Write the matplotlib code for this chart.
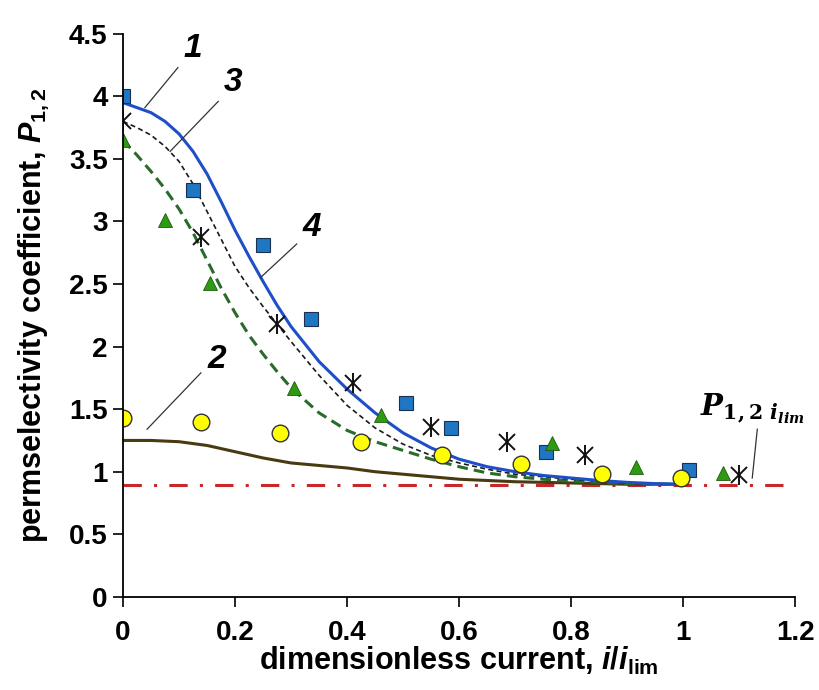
import matplotlib
matplotlib.use('Agg')
from matplotlib import pyplot as plt

# experimental points
sq_x = [0.0, 0.125, 0.25, 0.335, 0.505, 0.585, 0.755, 1.01]
sq_y = [4.0, 3.25, 2.81, 2.22, 1.55, 1.35, 1.16, 1.01]
st_x = [0.0, 0.14, 0.275, 0.41, 0.55, 0.685, 0.825, 1.1]
st_y = [3.8, 2.88, 2.18, 1.71, 1.36, 1.24, 1.13, 0.97]
tr_x = [0.0, 0.075, 0.155, 0.305, 0.46, 0.765, 0.915, 1.07]
tr_y = [3.65, 3.01, 2.51, 1.67, 1.45, 1.23, 1.04, 0.99]
ci_x = [0.0, 0.14, 0.28, 0.425, 0.57, 0.71, 0.855, 0.995]
ci_y = [1.43, 1.4, 1.31, 1.24, 1.13, 1.06, 0.98, 0.95]

# calculated curves
c_x = [0.0, 0.025, 0.05, 0.075, 0.1, 0.125, 0.15, 0.175, 0.2, 0.225, 0.25, 0.275,
       0.3, 0.35, 0.4, 0.45, 0.5, 0.55, 0.6, 0.65, 0.7, 0.75, 0.8, 0.85, 0.9, 0.95, 1.0]
c1_y = [3.95, 3.91, 3.87, 3.8, 3.7, 3.56, 3.38, 3.16, 2.93, 2.72, 2.52, 2.33,
        2.16, 1.88, 1.66, 1.47, 1.31, 1.19, 1.1, 1.04, 1.0, 0.97, 0.95, 0.93, 0.915, 0.905, 0.9]
c3_y = [3.8, 3.75, 3.69, 3.6, 3.48, 3.3, 3.08, 2.86, 2.64, 2.47, 2.32, 2.18,
        2.04, 1.77, 1.53, 1.35, 1.22, 1.13, 1.07, 1.02, 0.98, 0.96, 0.94, 0.925, 0.91, 0.905, 0.9]
c4_y = [3.65, 3.53, 3.4, 3.26, 3.1, 2.91, 2.69, 2.47, 2.27, 2.09, 1.94, 1.8,
        1.67, 1.47, 1.33, 1.24, 1.17, 1.1, 1.04, 0.99, 0.96, 0.94, 0.925, 0.915, 0.905, 0.9, 0.9]
c2_y = [1.25, 1.25, 1.25, 1.245, 1.24, 1.225, 1.21, 1.185, 1.16, 1.135, 1.11, 1.09,
        1.07, 1.05, 1.03, 1.0, 0.98, 0.96, 0.94, 0.93, 0.92, 0.915, 0.91, 0.905, 0.9, 0.9, 0.9]
p_lim = 0.89

plt.rcParams['font.family'] = ['Liberation Sans', 'DejaVu Sans']
plt.rcParams['font.weight'] = 'bold'
plt.rcParams['mathtext.fontset'] = 'custom'
plt.rcParams['mathtext.it'] = 'Liberation Sans:italic:bold'
plt.rcParams['mathtext.rm'] = 'Liberation Sans'
plt.rcParams['mathtext.bf'] = 'Liberation Sans:bold'

fig = plt.figure(figsize=(8.2, 6.9), dpi=100)
ax = fig.add_axes([0.15, 0.135, 0.82, 0.816])

ax.plot([0, 1.2], [p_lim, p_lim], color='#C8282A', lw=2.2, ls=(0, (6, 4, 1, 4)))
ax.plot(c_x, c2_y, color='#4A3A12', lw=2.2)
ax.plot(c_x, c4_y, color='#2A6A2A', lw=2.2, ls=(0, (3.5, 2)))
ax.plot(c_x, c3_y, color='#1a1a1a', lw=1.2, ls=(0, (3, 2)))
ax.plot(c_x, c1_y, color='#1F4FC8', lw=2.2)

ax.plot(sq_x, sq_y, 's', ms=10, mfc='#1F77C4', mec='#1a3050', mew=0.8, ls='none')
ax.plot(st_x, st_y, 'x', ms=11, mec='#111111', mew=1.4, ls='none')
ax.plot(st_x, st_y, '|', ms=14, mec='#111111', mew=1.4, ls='none')
ax.plot(tr_x, tr_y, '^', ms=10, mfc='#2E9A12', mec='#1f5a10', mew=0.6, ls='none')
ax.plot(ci_x, ci_y, 'o', ms=12, mfc='#FFFF00', mec='#333333', mew=1.0, ls='none')

ax.set_xlim(0, 1.2)
ax.set_ylim(0, 4.5)
ax.set_xticks([0, 0.2, 0.4, 0.6, 0.8, 1, 1.2])
ax.set_xticklabels(['0', '0.2', '0.4', '0.6', '0.8', '1', '1.2'])
ax.set_yticks([0, 0.5, 1, 1.5, 2, 2.5, 3, 3.5, 4, 4.5])
ax.set_yticklabels(['0', '0.5', '1', '1.5', '2', '2.5', '3', '3.5', '4', '4.5'])
ax.tick_params(direction='out', length=7, width=1.2, labelsize=20)
ax.tick_params(axis='x', pad=10)
ax.tick_params(axis='y', pad=4)
for s in ['top', 'right']:
    ax.spines[s].set_visible(False)
for s in ['left', 'bottom']:
    ax.spines[s].set_linewidth(1.3)

ax.set_xlabel(r'dimensionless current, $i$/$i$$_{\rm lim}$', fontsize=22,
              fontweight='bold', labelpad=-1)
ax.set_ylabel(r'permselectivity coefficient, $P$$_{\rm 1,2}$', fontsize=22,
              fontweight='bold', labelpad=13)

# curve numbers with leader lines
lbl = dict(fontsize=24, fontweight='bold', style='italic', ha='center', va='center')
ax.plot([0.039, 0.098], [3.91, 4.23], color='#333333', lw=0.9)
ax.text(0.125, 4.38, '1', **lbl)
ax.plot([0.084, 0.17], [3.56, 3.96], color='#333333', lw=0.9)
ax.text(0.196, 4.11, '3', **lbl)
ax.plot([0.245, 0.31], [2.55, 2.82], color='#333333', lw=0.9)
ax.text(0.337, 2.95, '4', **lbl)
ax.plot([0.043, 0.139], [1.34, 1.79], color='#333333', lw=0.9)
ax.text(0.168, 1.9, '2', **lbl)
ax.plot([1.132, 1.123], [1.34, 0.95], color='#333333', lw=0.9)
ax.text(1.03, 1.5, r'$\mathbfit{P}_{\mathbf{1,2}\ \mathbfit{i}_{\mathbfit{lim}}}$',
        fontsize=21, ha='left', va='center', clip_on=False,
        math_fontfamily='dejavuserif')

fig.savefig('out.png', dpi=100)
